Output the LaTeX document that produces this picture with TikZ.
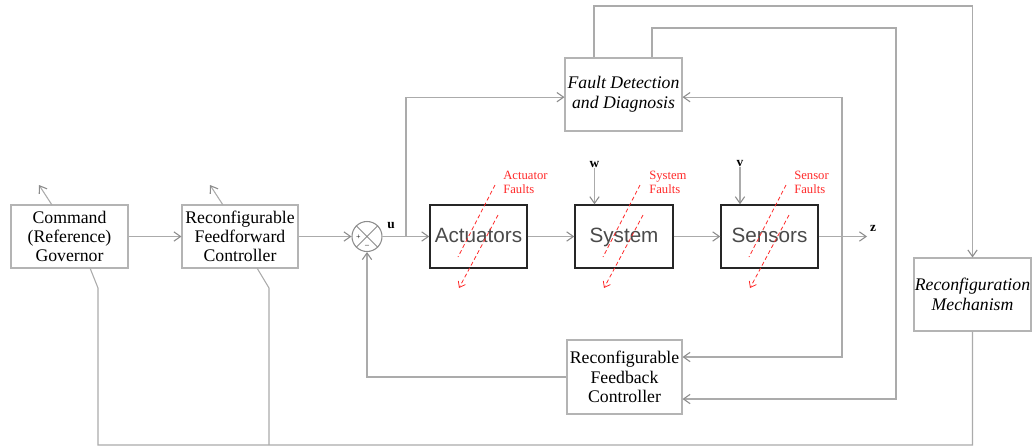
\documentclass[tikz,border=0pt]{standalone}
\usepackage{fontspec}
\setmainfont{Liberation Serif}
\newfontfamily\blocksans{Liberation Sans}
\usetikzlibrary{arrows.meta,calc}
\definecolor{wirec}{HTML}{ABABAB}
\definecolor{boxc}{HTML}{B4B4B4}
\definecolor{headc}{HTML}{8C8C8C}
\definecolor{faultc}{HTML}{FF2A2A}
\definecolor{blocktext}{HTML}{4A4A4A}
\begin{document}
\begin{tikzpicture}[x=0.75pt,y=-0.75pt,
  wire/.style={draw=wirec, line width=0.8pt},
  arr/.style={wire, -{Straight Barb[length=5pt,width=7pt,color=headc]}},
  gbox/.style={draw=boxc, line width=0.8pt, align=center, inner sep=0pt,
    text=black, font=\fontsize{13.3}{14.5}\selectfont},
  ibox/.style={gbox, font=\fontsize{13.3}{15}\selectfont\itshape},
  blk/.style={draw=black!85, line width=1.1pt, inner sep=0pt,
    minimum height=47.25pt, text height=11.5pt, text depth=3pt,
    text=blocktext, font=\blocksans\fontsize{15.5}{16}\selectfont},
  sumnode/.style={circle, draw=headc, line width=0.8pt, minimum size=22.5pt, inner sep=0pt},
  lab/.style={inner sep=0pt, font=\fontsize{10}{10}\selectfont\bfseries},
  flab/.style={inner sep=0pt, align=left, text=faultc, anchor=north west,
    font=\fontsize{9.5}{10.5}\selectfont},
  fault/.style={draw=faultc, line width=0.6pt, dash pattern=on 3pt off 2pt},
  faultarr/.style={fault, -{Straight Barb[length=4pt,width=6pt]}}
]
\useasboundingbox (0,0) rectangle (1036,447);

% blocks
\node[gbox, minimum width=87.75pt, minimum height=47.25pt] (cg) at (69.5,236.5) {Command\\(Reference)\\Governor};
\node[gbox, minimum width=87pt, minimum height=47.25pt] (ff) at (240,236.5) {Reconfigurable\\Feedforward\\Controller};
\node[sumnode] (sum) at (367,236.5) {};
\node[blk, minimum width=72.75pt] (act) at (478.5,236.5) {Actuators};
\node[blk, minimum width=73.5pt] (sys) at (624,236.5) {System};
\node[blk, minimum width=72.75pt] (sen) at (769.5,236.5) {Sensors};
\node[ibox, minimum width=87.75pt, minimum height=54.75pt] (fdd) at (623.5,94.5) {Fault Detection\\and Diagnosis};
\node[gbox, minimum width=86.25pt, minimum height=55.5pt] (rfc) at (624.5,377) {Reconfigurable\\Feedback\\Controller};
\node[ibox, minimum width=87.75pt, minimum height=54.75pt] (rm) at (972.5,294.5) {Reconfiguration\\Mechanism};

% summing junction
\draw[draw=headc, line width=0.7pt] (sum.north west) -- (sum.south east) (sum.north east) -- (sum.south west);
\node[inner sep=0pt, font=\fontsize{6}{6}\selectfont] (plus) at (358.5,237.5) {+};
\node[inner sep=0pt, font=\fontsize{6}{6}\selectfont] (minus) at (367,246) {--};

% signal labels
\node[lab] (u) at (391,226) {u};
\node[lab] (w) at (594.5,165) {w};
\node[lab] (v) at (740,164) {v};
\node[lab] (z) at (873,228) {z};

% coordinates
\coordinate (ubr) at (406,236.5);
\coordinate (zbr) at (842,236.5);
\coordinate (zend) at (867,236.5);
\coordinate (t1) at (594,6);
\coordinate (t2) at (652,28);
\coordinate (t2r) at (896,28);
\coordinate (bot) at (972.5,445);
\coordinate (b1) at (98,445);
\coordinate (b1k) at (98,288);
\coordinate (b1s) at (90,268);
\coordinate (b2) at (269,445);
\coordinate (b2k) at (269,288);
\coordinate (b2s) at (257,268);
\coordinate (cgo1) at (52,205);
\coordinate (cgo2) at (39,185);
\coordinate (ffo1) at (223,205);
\coordinate (ffo2) at (210,185);

% main path
\draw[arr] (cg) -- (ff);
\draw[arr] (ff) -- (sum);
\draw[arr] (sum) -- (act);
\draw[arr] (act) -- (sys);
\draw[arr] (sys) -- (sen);
\draw[arr] (sen) -- (zend);
\draw[arr] (w.south) -- (w.south |- sys.north);
\draw[arr] (v.south) -- (v.south |- sen.north);

% FDD inputs
\draw[arr] (ubr) |- ([yshift=-2pt]fdd.west);
\draw[arr] (zbr) |- ([yshift=-2pt]fdd.east);
\draw[arr] (zbr) |- ([yshift=15pt]rfc.east);

% FDD outputs
\draw[arr] (fdd.north -| t1) -- (t1) -| (rm.north);
\draw[arr] (fdd.north -| t2) -- (t2) -- (t2r) |- ([yshift=-16.5pt]rfc.east);

% feedback
\draw[arr] (rfc.west) -| (sum.south);

% reconfiguration lines
\draw[wire] (rm.south) -- (bot) -- (b1) -- (b1k) -- (b1s);
\draw[wire] (b2) -- (b2k) -- (b2s);

% outgoing small arrows
\draw[arr] (cgo1) -- (cgo2);
\draw[arr] (ffo1) -- (ffo2);

% faults
\foreach \n/\L in {a/430, s/575, e/721}{
  \coordinate (\n A1) at (\L+65,185);
  \coordinate (\n A2) at (\L+28,257);
  \coordinate (\n B1) at (\L+68,215);
  \coordinate (\n B2) at (\L+29,288);
  \draw[fault] (\n A1) -- (\n A2);
  \draw[faultarr] (\n B1) -- (\n B2);
}
\node[flab] (fa) at (503,171) {Actuator\\Faults};
\node[flab] (fs) at (649,171) {System\\Faults};
\node[flab] (fe) at (794,171) {Sensor\\Faults};
\end{tikzpicture}
\end{document}
